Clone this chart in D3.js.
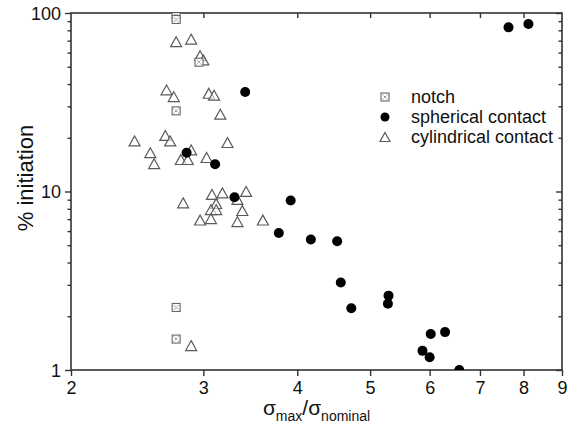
<!DOCTYPE html>
<html>
<head>
<meta charset="utf-8">
<script src="https://cdn.jsdelivr.net/npm/d3@7"></script>
<style>
  body { margin: 0; background: #fff; }
  svg { display: block; font-family: "Liberation Sans", Arial, sans-serif; }
</style>
</head>
<body>
<svg id="chart" width="567" height="430"></svg>
<script>
// values
const notchX = [2.76, 2.76, 2.76, 2.96, 2.76, 2.76];
const notchY = [97, 92, 28.3, 53, 2.24, 1.49];

const sphereX = [7.64, 8.12, 3.41, 2.85, 3.11, 3.30, 3.92, 3.78, 4.17, 4.52,
  4.57, 4.72, 5.29, 5.28, 6.02, 6.29, 5.87, 6.00, 6.57];
const sphereY = [83.1, 86.7, 36.1, 16.5, 14.2, 9.29, 8.9, 5.86, 5.38, 5.26,
  3.09, 2.22, 2.61, 2.35, 1.59, 1.63, 1.28, 1.18, 1.0];

const cylX = [2.76, 2.89, 2.97, 3.00, 2.68, 2.74, 3.05, 3.10, 3.16, 2.43,
  2.67, 2.71, 3.23, 2.55, 2.89, 2.58, 2.80, 2.86, 3.03, 3.08,
  3.18, 3.42, 3.33, 2.82, 3.12, 3.07, 3.12, 3.38, 2.97, 3.07,
  3.33, 3.60, 2.89];
const cylY = [69.0, 71.4, 57.6, 54.6, 37.1, 34.0, 35.5, 34.6, 27.1, 19.2,
  20.6, 19.2, 18.8, 16.5, 17.1, 14.3, 15.1, 15.1, 15.5, 9.62,
  9.83, 10.0, 9.02, 8.64, 8.56, 7.92, 7.92, 7.82, 6.92, 7.05,
  6.78, 6.92, 1.37];

const xTicks = [2, 3, 4, 5, 6, 7, 8, 9];
const yTicks = [1, 10, 100];
const yMinor = [2, 3, 4, 5, 6, 7, 8, 9, 20, 30, 40, 50, 60, 70, 80, 90];
const legendLabels = ["notch", "spherical contact", "cylindrical contact"];

const svg = d3.select("#chart");
const mLeft = 71, mRight = 562, mTop = 13, mBottom = 370;

const x = d3.scaleLog().domain([2, 9]).range([mLeft, mRight]);
const y = d3.scaleLog().domain([1, 100]).range([mBottom, mTop]);

const axisColor = "#333";

svg.append("clipPath").attr("id", "plot")
  .append("rect")
  .attr("x", mLeft).attr("y", mTop)
  .attr("width", mRight - mLeft).attr("height", mBottom - mTop);

// frame
svg.append("rect")
  .attr("x", mLeft).attr("y", mTop)
  .attr("width", mRight - mLeft).attr("height", mBottom - mTop)
  .attr("fill", "none").attr("stroke", axisColor).attr("stroke-width", 1.6);

// bottom axis: outward ticks
const bottomAxis = svg.append("g")
  .attr("transform", `translate(0,${mBottom})`)
  .call(d3.axisBottom(x).tickValues(xTicks).tickFormat(d3.format("d")).tickSize(6).tickPadding(5));
// top axis: inward ticks, no labels
const topAxis = svg.append("g")
  .attr("transform", `translate(0,${mTop})`)
  .call(d3.axisBottom(x).tickValues(xTicks.slice(1, -1)).tickFormat("").tickSize(5));
// left axis
const leftAxis = svg.append("g")
  .attr("transform", `translate(${mLeft},0)`)
  .call(d3.axisLeft(y).tickValues(yTicks).tickFormat(d3.format("d")).tickSize(6).tickPadding(4));
const leftMinor = svg.append("g")
  .attr("transform", `translate(${mLeft},0)`)
  .call(d3.axisLeft(y).tickValues(yMinor).tickFormat("").tickSize(3.5));
// right axis: inward ticks
const rightAxis = svg.append("g")
  .attr("transform", `translate(${mRight},0)`)
  .call(d3.axisLeft(y).tickValues(yTicks).tickFormat("").tickSize(6));
const rightMinor = svg.append("g")
  .attr("transform", `translate(${mRight},0)`)
  .call(d3.axisLeft(y).tickValues(yMinor).tickFormat("").tickSize(3.5));

for (const g of [bottomAxis, topAxis, leftAxis, leftMinor, rightAxis, rightMinor]) {
  g.select(".domain").remove();
  g.selectAll(".tick line").attr("stroke", axisColor).attr("stroke-width", 1.4);
  g.selectAll(".tick text").attr("fill", "#111").style("font-size", "18px")
    .style("font-family", "'Liberation Sans', Arial, sans-serif");
}
leftAxis.selectAll(".tick text").attr("dy", "0.34em");

// markers
const plot = svg.append("g").attr("clip-path", "url(#plot)");

function triPath(cx, cy, s) {
  const h = s * 0.9;
  return `M${cx},${cy - h / 2} L${cx + s / 2},${cy + h / 2} L${cx - s / 2},${cy + h / 2} Z`;
}

function drawNotch(g, cx, cy, s) {
  const n = g.append("g");
  n.append("rect")
    .attr("x", cx - s / 2).attr("y", cy - s / 2)
    .attr("width", s).attr("height", s)
    .attr("fill", "#fff").attr("stroke", "#666").attr("stroke-width", 1.1);
  const d = s / 2 - 1.5;
  n.append("path")
    .attr("d", `M${cx - d},${cy - d} L${cx + d},${cy + d} M${cx + d},${cy - d} L${cx - d},${cy + d}`)
    .attr("stroke", "#777").attr("stroke-width", 1).attr("stroke-dasharray", "1.2,0.8");
}

plot.selectAll(".cyl")
  .data(d3.range(cylX.length))
  .enter()
  .append("path")
  .attr("class", "cyl")
  .attr("d", i => triPath(x(cylX[i]), y(cylY[i]), 11))
  .attr("fill", "#fff")
  .attr("fill-opacity", 0.6)
  .attr("stroke", "#5a5a5a")
  .attr("stroke-width", 1.2);

d3.range(notchX.length).forEach(i => drawNotch(plot, x(notchX[i]), y(notchY[i]), 8));

plot.selectAll(".sphere")
  .data(d3.range(sphereX.length))
  .enter()
  .append("circle")
  .attr("class", "sphere")
  .attr("cx", i => x(sphereX[i]))
  .attr("cy", i => y(sphereY[i]))
  .attr("r", 5)
  .attr("fill", "#000");

// legend
const legend = svg.append("g");
const lx = 385, ly = 97, lstep = 20;
drawNotch(legend, lx, ly, 8);
legend.append("circle").attr("cx", lx).attr("cy", ly + lstep).attr("r", 4.5).attr("fill", "#000");
legend.append("path").attr("d", triPath(lx, ly + 2 * lstep, 10))
  .attr("fill", "#fff").attr("stroke", "#5a5a5a").attr("stroke-width", 1.2);
legend.selectAll("text")
  .data(legendLabels)
  .enter()
  .append("text")
  .attr("x", 411)
  .attr("y", (d, i) => ly + i * lstep)
  .attr("dy", "0.34em")
  .attr("fill", "#111")
  .style("font-size", "18px")
  .text(d => d);

// axis titles
svg.append("text")
  .attr("transform", "translate(33,178) rotate(-90)")
  .attr("text-anchor", "middle")
  .attr("fill", "#111")
  .style("font-size", "22px")
  .text("% initiation");

const xt = svg.append("text")
  .attr("x", (mLeft + mRight) / 2)
  .attr("y", 415)
  .attr("text-anchor", "middle")
  .attr("fill", "#111")
  .style("font-size", "21px");
xt.append("tspan").text("σ");
xt.append("tspan").attr("dy", 6).style("font-size", "14px").text("max");
xt.append("tspan").attr("dy", -6).text("/σ");
xt.append("tspan").attr("dy", 6).style("font-size", "14px").text("nominal");
</script>
</body>
</html>
